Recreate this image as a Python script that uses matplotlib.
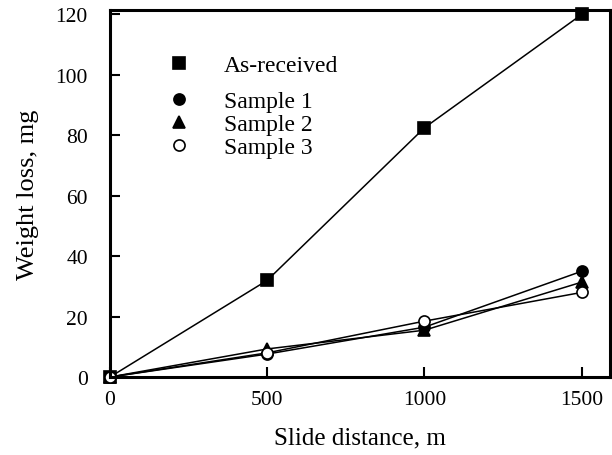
import matplotlib
matplotlib.use('Agg')
import matplotlib.pyplot as plt
from matplotlib.lines import Line2D

plt.rcParams['font.family'] = ['Liberation Serif', 'DejaVu Serif']

distance = [0, 500, 1000, 1500]
as_received = [0, 32, 82.5, 120]
sample1 = [0, 7.6, 16.5, 35]
sample2 = [0, 9.3, 15.5, 31.4]
sample3 = [0, 8, 18.5, 28]

series = [
    ('As-received', as_received, 's', 'black', 9),
    ('Sample 1', sample1, 'o', 'black', 8),
    ('Sample 2', sample2, '^', 'black', 9),
    ('Sample 3', sample3, 'o', 'white', 8),
]

fig = plt.figure(figsize=(6.12, 4.56), dpi=100)
ax = fig.add_axes([0.1797, 0.171, 0.817, 0.805])

for name, vals, mk, fc, ms in series:
    ax.plot(distance, vals, '-', color='black', linewidth=1.1,
            marker=mk, markersize=ms, markerfacecolor=fc,
            markeredgecolor='black', markeredgewidth=1.2, clip_on=False)

ax.set_xlim(0, 1590)
ax.set_ylim(0, 121.5)
ax.set_xticks([0, 500, 1000, 1500])
ax.set_yticks([0, 20, 40, 60, 80, 100, 120])
ax.tick_params(direction='in', length=7, width=1.5, labelsize=15.5, pad=9)
ax.tick_params(axis='y', pad=16)
for sp in ax.spines.values():
    sp.set_linewidth(2.2)

ax.set_xlabel('Slide distance, m', fontsize=18, labelpad=13)
ax.set_ylabel('Weight loss, mg', fontsize=19, labelpad=12)

def handle(mk, fc, ms, name):
    return Line2D([], [], linestyle='none', marker=mk, markersize=ms,
                  markerfacecolor=fc, markeredgecolor='black',
                  markeredgewidth=1.2, label=name)

h_all = [handle(mk, fc, ms, name) for name, vals, mk, fc, ms in series]

leg1 = ax.legend(handles=h_all[:1], loc='upper left',
                 bbox_to_anchor=(0.096, 0.905), frameon=False, fontsize=17,
                 handletextpad=1.4, handlelength=1.0, borderaxespad=0)
ax.add_artist(leg1)
ax.legend(handles=h_all[1:], loc='upper left',
          bbox_to_anchor=(0.096, 0.805), frameon=False, fontsize=17,
          handletextpad=1.4, labelspacing=0.05, handlelength=1.0,
          borderaxespad=0)

fig.savefig('out.png', dpi=100)
